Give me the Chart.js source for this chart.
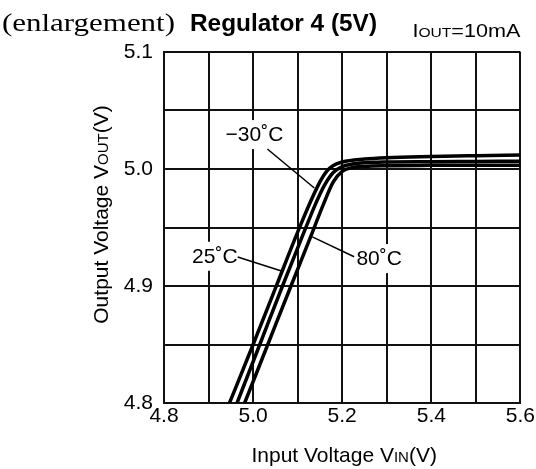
<!DOCTYPE html>
<html>
<head>
<meta charset="utf-8">
<script src="https://cdn.jsdelivr.net/npm/chart.js@4"></script>
<style>
  html, body { margin: 0; padding: 0; background: #fff; }
  #c { display: block; }
</style>
</head>
<body>
<canvas id="c" width="536" height="469"></canvas>
<script>
// Curves: input voltage (V) -> output voltage (V)
const vinM30  = [4.947, 5.000, 5.050, 5.100, 5.130, 5.150, 5.165, 5.180, 5.200, 5.250, 5.300, 5.400, 5.500, 5.600];
const voutM30 = [4.800, 4.850, 4.898, 4.946, 4.973, 4.989, 4.998, 5.003, 5.006, 5.0085, 5.0097, 5.0107, 5.0114, 5.012];

const vin25  = [4.964, 5.015, 5.066, 5.108, 5.140, 5.160, 5.180, 5.200, 5.220, 5.250, 5.300, 5.400, 5.500, 5.600];
const vout25 = [4.800, 4.850, 4.900, 4.940, 4.970, 4.986, 4.997, 5.002, 5.004, 5.0053, 5.006, 5.0063, 5.0065, 5.0067];

const vin80  = [4.981, 5.033, 5.085, 5.127, 5.158, 5.180, 5.200, 5.220, 5.250, 5.300, 5.400, 5.500, 5.600];
const vout80 = [4.800, 4.850, 4.900, 4.940, 4.970, 4.989, 4.998, 5.001, 5.0022, 5.0028, 5.0031, 5.0032, 5.0033];

const xLabelTicks = [4.8, 5.0, 5.2, 5.4, 5.6];
const yLabelTicks = [4.8, 4.9, 5.0, 5.1];

// temperature tags: text, text centre, leader start, leader end (data units)
const tagText = ['\u221230\u02DAC', '25\u02DAC', '80\u02DAC'];
const tagAt   = [[5.003, 5.029], [4.914, 4.925], [5.283, 4.923]];
const tagFrom = [[5.032, 5.0171], [4.9654, 4.9248], [5.2268, 4.925]];
const tagTo   = [[5.1374, 4.9838], [5.0637, 4.9128], [5.133, 4.942]];

const SANS = '"Liberation Sans", Arial, Helvetica, sans-serif';
const SERIF = '"Liberation Serif", "Times New Roman", serif';

function pts(xs, ys) {
    return xs.map((x, i) => ({ x: x, y: ys[i] }));
}

// draws a row of text pieces with differing fonts on one baseline
function drawRich(ctx, segs, x, y, align, fitW) {
    let w = 0;
    const widths = segs.map(s => {
        ctx.font = s[1];
        const m = ctx.measureText(s[0]).width;
        w += m;
        return m;
    });
    const k = fitW ? fitW / w : 1;
    let start = x;
    if (align === 'center') start = x - w * k / 2;
    if (align === 'right') start = x - w * k;
    ctx.save();
    ctx.translate(start, y);
    ctx.scale(k, 1);
    ctx.textAlign = 'left';
    ctx.textBaseline = 'alphabetic';
    ctx.fillStyle = '#000';
    let cx = 0;
    segs.forEach((s, i) => {
        ctx.font = s[1];
        ctx.fillText(s[0], cx, 0);
        cx += widths[i];
    });
    ctx.restore();
}

const textPlugin = {
    id: 'texts',
    beforeDatasetsDraw(chart) {
        const { ctx, scales: { x, y } } = chart;
        ctx.save();
        ctx.font = '21px ' + SANS;
        tagText.forEach((t, i) => {
            const px = x.getPixelForValue(tagAt[i][0]);
            const py = y.getPixelForValue(tagAt[i][1]);
            const w = ctx.measureText(t).width;
            ctx.fillStyle = '#fff';
            ctx.fillRect(px - w / 2 - 3, py - 15, w + 6, 29);
            ctx.fillStyle = '#000';
            ctx.textAlign = 'center';
            ctx.textBaseline = 'middle';
            ctx.fillText(t, px, py);
            ctx.beginPath();
            ctx.moveTo(x.getPixelForValue(tagFrom[i][0]), y.getPixelForValue(tagFrom[i][1]));
            ctx.lineTo(x.getPixelForValue(tagTo[i][0]), y.getPixelForValue(tagTo[i][1]));
            ctx.lineWidth = 1.5;
            ctx.strokeStyle = '#000';
            ctx.stroke();
        });
        ctx.restore();
    },
    afterDraw(chart) {
        const { ctx, chartArea } = chart;
        // heading
        drawRich(ctx, [['(enlargement)', '25px ' + SERIF]], 2, 31, 'left', 173);
        drawRich(ctx, [['Regulator 4 (5V)', 'bold 23px ' + SANS]], 190, 31, 'left', 187);
        drawRich(ctx, [['I', '18px ' + SANS], ['OUT', '13px ' + SANS], ['=10mA', '18px ' + SANS]],
            chartArea.right, 37, 'right', 108);
        // axis titles
        const cx = (chartArea.left + chartArea.right) / 2;
        drawRich(ctx, [['Input Voltage V', '21px ' + SANS], ['IN', '15px ' + SANS], ['(V)', '21px ' + SANS]],
            cx + 2, 462, 'center');
        ctx.save();
        ctx.translate(108, 214.5);
        ctx.rotate(-Math.PI / 2);
        drawRich(ctx, [['Output Voltage V', '21px ' + SANS], ['OUT', '15px ' + SANS], ['(V)', '21px ' + SANS]],
            0, 0, 'center');
        ctx.restore();
    }
};

const lineStyle = {
    borderColor: '#000',
    borderWidth: 3.5,
    pointRadius: 0,
    fill: false,
    cubicInterpolationMode: 'monotone'
};

new Chart(document.getElementById('c'), {
    type: 'line',
    data: {
        datasets: [
            { label: '-30', data: pts(vinM30, voutM30), ...lineStyle },
            { label: '25', data: pts(vin25, vout25), ...lineStyle },
            { label: '80', data: pts(vin80, vout80), ...lineStyle }
        ]
    },
    options: {
        responsive: false,
        animation: false,
        layout: { padding: { top: 52, right: 14, bottom: 0, left: 0 } },
        plugins: {
            legend: { display: false },
            tooltip: { enabled: false },
            title: { display: false }
        },
        scales: {
            x: {
                type: 'linear',
                min: 4.8,
                max: 5.6,
                afterFit(s) { s.height = 66; },
                grid: { color: '#111', lineWidth: 2, drawTicks: false },
                border: { color: '#111', width: 2 },
                ticks: {
                    stepSize: 0.1,
                    autoSkip: false,
                    maxRotation: 0,
                    padding: 1,
                    color: '#000',
                    font: { family: SANS, size: 21 },
                    callback: v => xLabelTicks.some(t => Math.abs(t - v) < 1e-6) ? v.toFixed(1) : ''
                }
            },
            y: {
                type: 'linear',
                min: 4.8,
                max: 5.1,
                afterFit(s) { s.width = 164; },
                grid: { color: '#111', lineWidth: 2, drawTicks: false },
                border: { color: '#111', width: 2 },
                ticks: {
                    stepSize: 0.05,
                    autoSkip: false,
                    padding: 11,
                    color: '#000',
                    font: { family: SANS, size: 21 },
                    callback: v => yLabelTicks.some(t => Math.abs(t - v) < 1e-6) ? v.toFixed(1) : ''
                }
            }
        }
    },
    plugins: [textPlugin]
});
</script>
</body>
</html>
